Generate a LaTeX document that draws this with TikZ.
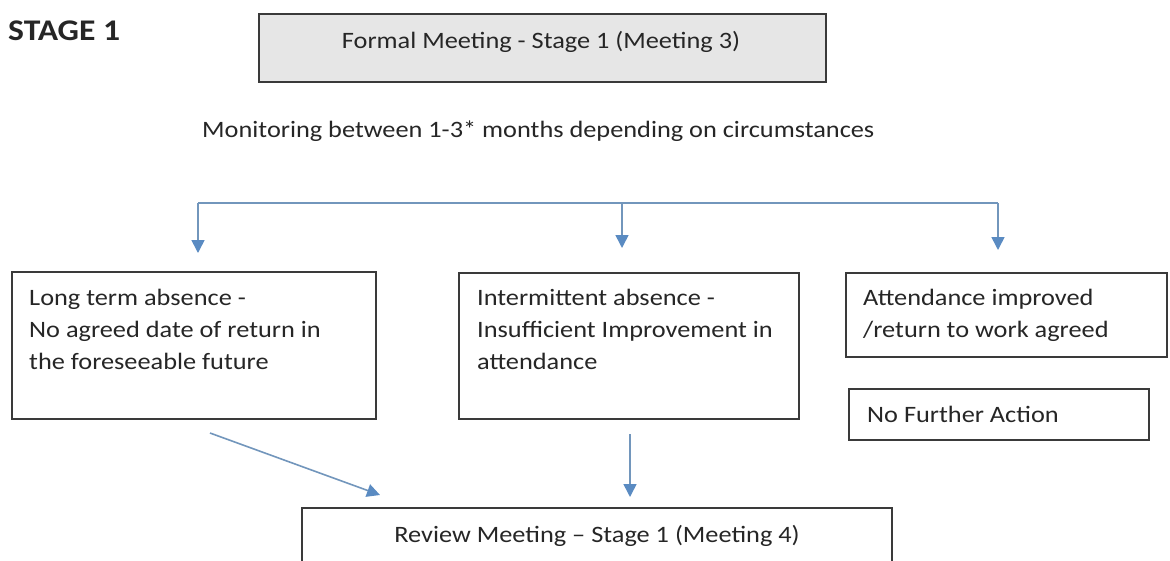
\documentclass[tikz,border=0pt]{standalone}
\usepackage{fontspec}
\setmainfont{Carlito}[FakeStretch=1.12]
\usetikzlibrary{arrows.meta}
\definecolor{txt}{HTML}{262626}
\definecolor{bord}{HTML}{3A3A3A}
\definecolor{boxgray}{HTML}{E6E6E6}
\definecolor{connc}{HTML}{7296BC}
\definecolor{headc}{HTML}{5A8BC2}
\tikzset{
  box/.style={draw=bord, line width=1.5pt, rectangle, inner sep=0pt, anchor=north west},
  lbl/.style={font=\fontsize{23.5}{32}\selectfont, text=txt, inner sep=0pt, align=left, anchor=north west},
  ctxt/.style={font=\fontsize{23.5}{32}\selectfont, text=txt, inner sep=0pt},
  conn/.style={draw=connc, line width=1.6pt},
  arr/.style={conn, -{Triangle[width=13pt,length=13pt,fill=headc,color=headc]}},
}
\begin{document}
\begin{tikzpicture}[x=1pt,y=-1pt]
\useasboundingbox[fill=white] (0,0) rectangle (1170,560);
% title
\node[ctxt, anchor=base west, font=\fontsize{30}{36}\selectfont\bfseries] (stage) at (8,40) {STAGE 1};
% top box
\node[box, fill=boxgray, minimum width=567pt, minimum height=68pt] (formal) at (258,13) {};
\node[ctxt, anchor=base] (formaltxt) at (541,48) {Formal Meeting - Stage 1 (Meeting 3)};
% monitoring text
\node[ctxt, anchor=base west] (monitor) at (202,137) {Monitoring between 1-3* months depending on circumstances};
% boxes
\node[box, minimum width=364pt, minimum height=147pt] (long) at (11,271) {};
\node[lbl] (longtxt) at (29,282.6) {\strut Long term absence -\\No agreed date of return in\\the foreseeable future};
\node[box, minimum width=340pt, minimum height=146pt] (inter) at (458,272) {};
\node[lbl] (intertxt) at (477,282.6) {\strut Intermittent absence -\\Insufficient Improvement in\\attendance};
\node[box, minimum width=321pt, minimum height=84pt] (improved) at (845,272) {};
\node[lbl] (improvedtxt) at (863,282.6) {\strut Attendance improved\\/return to work agreed};
\node[box, minimum width=300pt, minimum height=51pt] (nfa) at (848,388) {};
\node[ctxt, anchor=base west] (nfatxt) at (867,422) {No Further Action};
\node[box, minimum width=590pt, minimum height=90pt] (review) at (301,507) {};
\node[ctxt, anchor=base] (reviewtxt) at (597,542) {Review Meeting -- Stage 1 (Meeting 4)};
% connectors
\coordinate (busL) at (198,203);
\coordinate (busM) at (622,203);
\coordinate (busR) at (998,203);
\draw[conn] (busL) -- (busR);
\draw[arr, shorten >=18pt] (busL) -- (busL |- long.north);
\draw[arr, shorten >=24pt] (busM) -- (busM |- inter.north);
\draw[arr, shorten >=22pt] (busR) -- (busR |- improved.north);
\coordinate (d1) at (210,433);
\coordinate (d2) at (380,495);
\draw[arr] (d1) -- (d2);
\coordinate (v1) at (630,434);
\draw[arr, shorten >=10pt] (v1) -- (v1 |- review.north);
\end{tikzpicture}
\end{document}
